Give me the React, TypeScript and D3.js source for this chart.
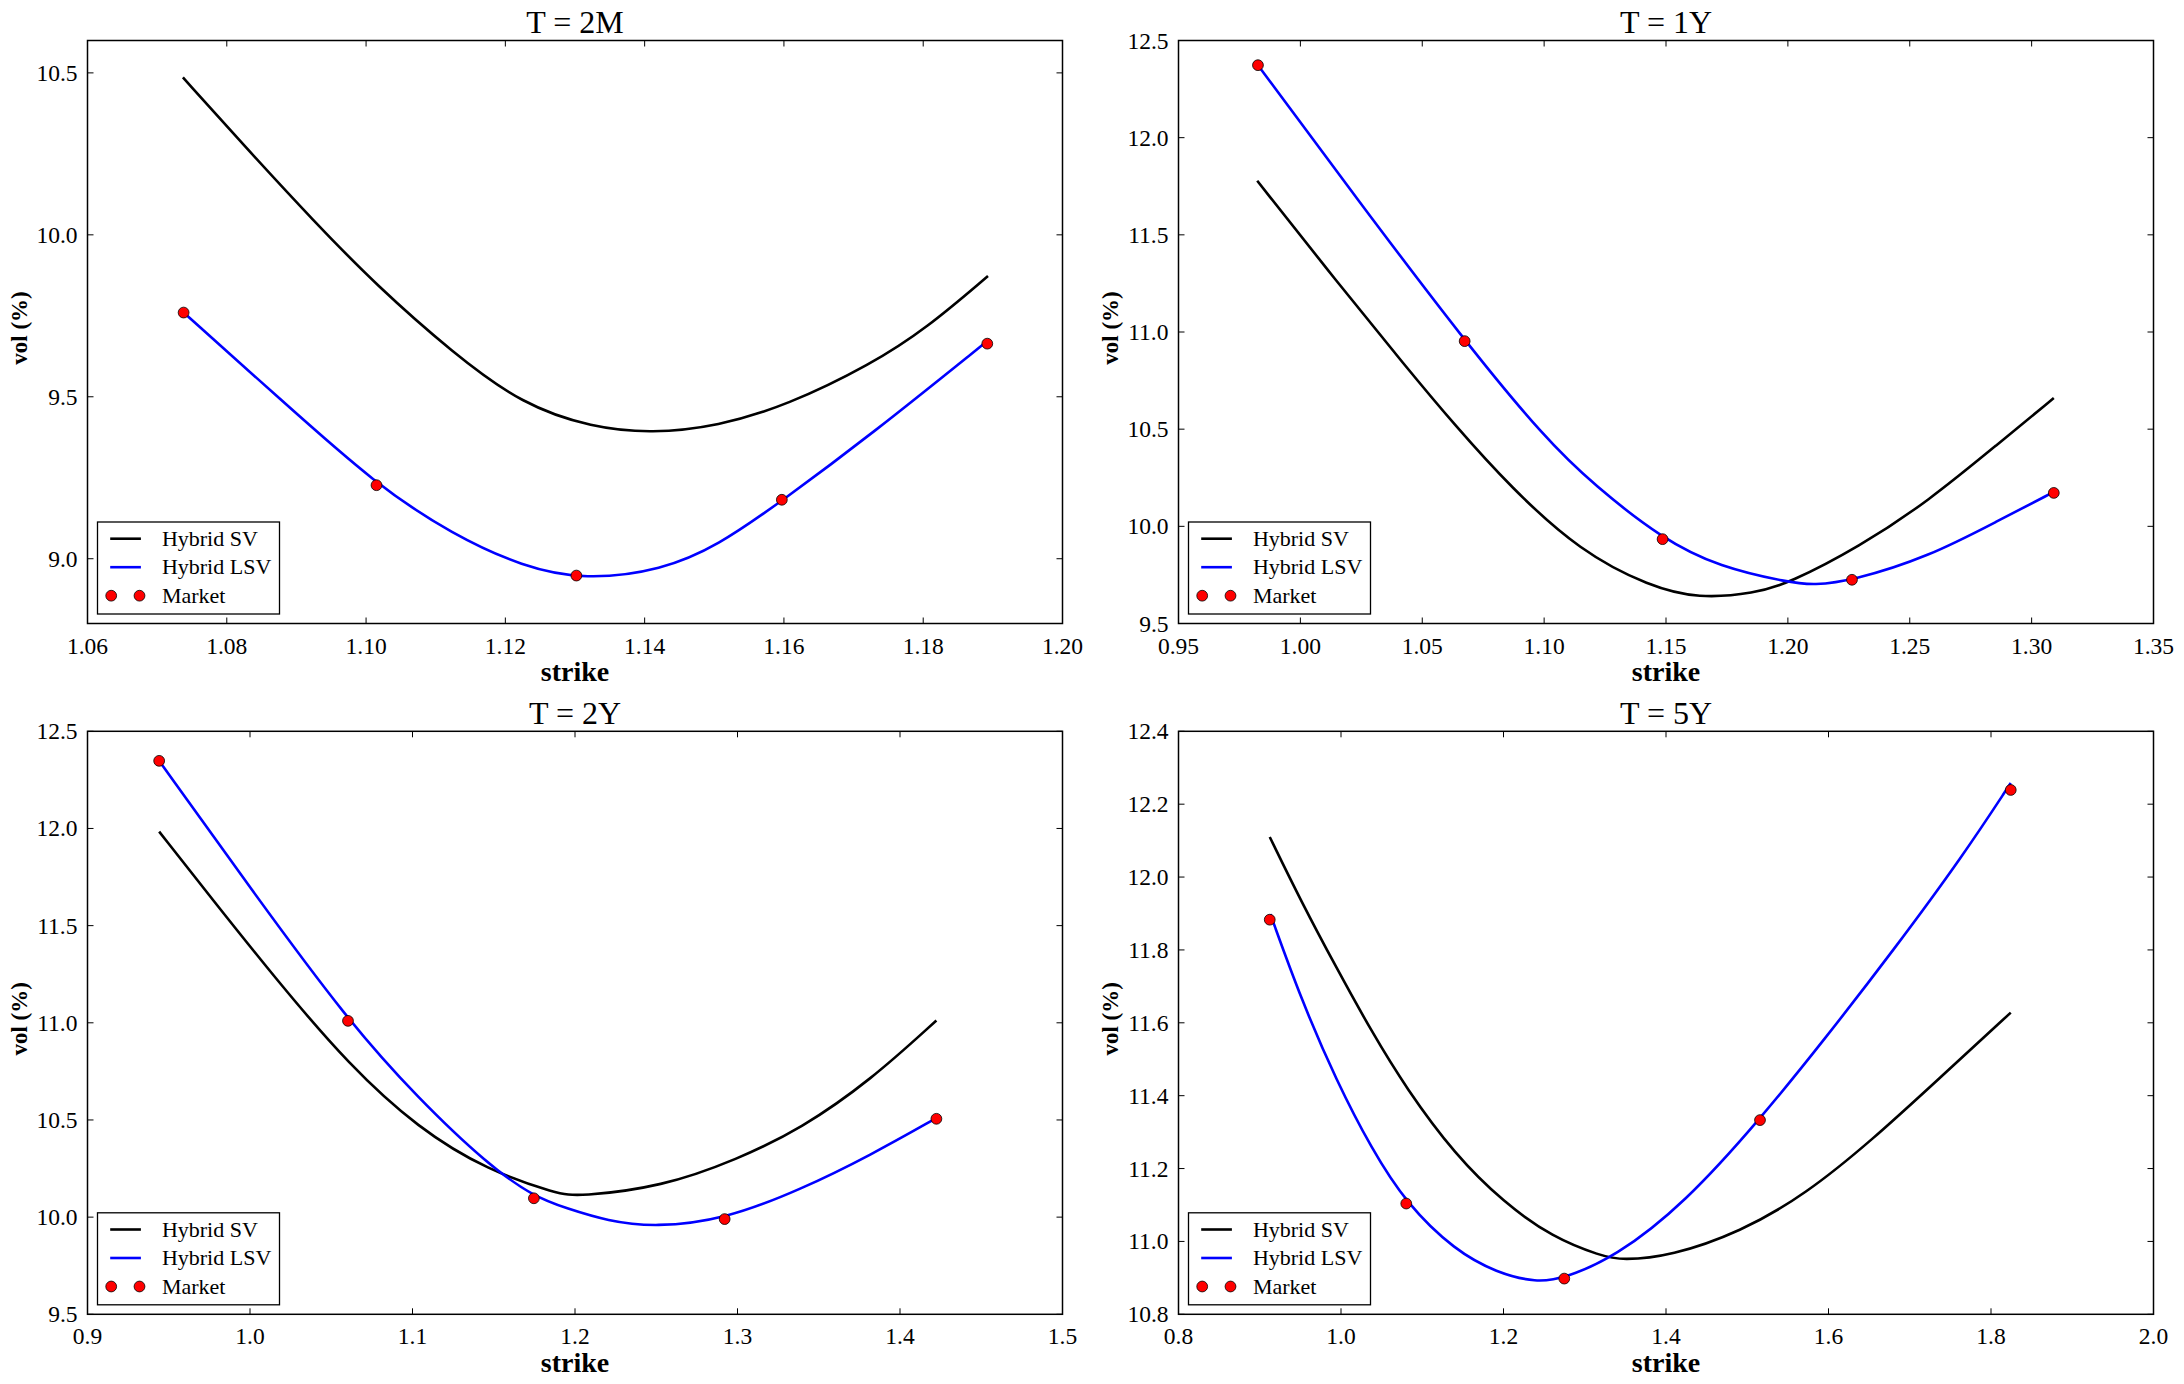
import * as d3 from "d3";

type Pt = [number, number];

const WIDTH = 2184;
const HEIGHT = 1384;

const titles = ["T = 2M", "T = 1Y", "T = 2Y", "T = 5Y"];
const seriesNames = ["Hybrid SV", "Hybrid LSV", "Market"];

// market quotes: [strike, vol %]
const market2M: Pt[] = [[1.0738, 9.76], [1.1015, 9.227], [1.1302, 8.948], [1.1597, 9.182], [1.1892, 9.664]];
const market1Y: Pt[] = [[0.9826, 12.373], [1.0674, 10.953], [1.1486, 9.934], [1.2263, 9.725], [1.3091, 10.172]];
const market2Y: Pt[] = [[0.9441, 12.348], [1.0603, 11.01], [1.1747, 10.097], [1.2921, 9.99], [1.4224, 10.506]];
const market5Y: Pt[] = [[0.9123, 11.883], [1.0803, 11.104], [1.2748, 10.898], [1.5157, 11.333], [1.8243, 12.239]];

// hybrid SV model smile
const sv2M: Pt[] = [
  [1.0737, 10.486], [1.0825, 10.275], [1.0925, 10.042], [1.1015, 9.844], [1.1125, 9.635],
  [1.1225, 9.475], [1.1325, 9.405], [1.141, 9.387], [1.1505, 9.409], [1.1605, 9.474],
  [1.1725, 9.6], [1.1805, 9.712], [1.1893, 9.873],
];
const sv1Y: Pt[] = [
  [0.9823, 11.778], [1.0149, 11.26], [1.0434, 10.82], [1.0634, 10.52], [1.0863, 10.2],
  [1.1149, 9.87], [1.1434, 9.69], [1.1634, 9.628], [1.1863, 9.655], [1.2006, 9.708],
  [1.2291, 9.893], [1.2577, 10.13], [1.2863, 10.425], [1.3091, 10.66],
];
const sv2Y: Pt[] = [
  [0.9441, 11.984], [0.975, 11.655], [1.0179, 11.205], [1.0607, 10.785], [1.1036, 10.456],
  [1.1464, 10.24], [1.1893, 10.12], [1.2021, 10.106], [1.2536, 10.156], [1.2999, 10.297],
  [1.3393, 10.456], [1.3821, 10.706], [1.4224, 11.012],
];
const sv5Y: Pt[] = [
  [0.9123, 12.11], [0.9517, 11.93], [0.9946, 11.75], [1.0374, 11.577], [1.0803, 11.42],
  [1.1403, 11.238], [1.2003, 11.107], [1.2603, 11.011], [1.3203, 10.96], [1.346, 10.948],
  [1.406, 10.96], [1.4917, 11.026], [1.5717, 11.129], [1.6546, 11.28], [1.7346, 11.444],
  [1.8243, 11.628],
];

// hybrid LSV model smile
const lsv2M: Pt[] = [
  [1.0738, 9.76], [1.0875, 9.496], [1.1015, 9.227], [1.1125, 9.074], [1.1225, 8.975],
  [1.1315, 8.934], [1.1425, 8.965], [1.1505, 9.04], [1.1597, 9.178], [1.1725, 9.383],
  [1.1892, 9.672],
];
const lsv1Y: Pt[] = [
  [0.9826, 12.373], [1.0234, 11.682], [1.0674, 10.953], [1.1006, 10.449], [1.1206, 10.211],
  [1.1486, 9.934], [1.172, 9.79], [1.2006, 9.711], [1.2106, 9.697], [1.2263, 9.72],
  [1.2577, 9.843], [1.2863, 10.029], [1.3091, 10.177],
];
const lsv2Y: Pt[] = [
  [0.9441, 12.348], [1.0007, 11.687], [1.0603, 11.01], [1.1036, 10.61], [1.1464, 10.27],
  [1.1747, 10.105], [1.195, 10.045], [1.22, 9.98], [1.2493, 9.948], [1.2921, 9.988],
  [1.3393, 10.143], [1.3821, 10.32], [1.4224, 10.51],
];
const lsv5Y: Pt[] = [
  [0.9131, 11.898], [0.9517, 11.66], [0.9946, 11.44], [1.0374, 11.255], [1.0803, 11.104],
  [1.1403, 10.975], [1.1917, 10.914], [1.2406, 10.887], [1.2748, 10.899], [1.3374, 10.957],
  [1.4231, 11.105], [1.5157, 11.335], [1.5946, 11.553], [1.6803, 11.8], [1.766, 12.06],
  [1.8243, 12.258],
];

// axis limits and tick labels
const xDomains: Pt[] = [[1.06, 1.2], [0.95, 1.35], [0.9, 1.5], [0.8, 2.0]];
const yDomains: Pt[] = [[8.8, 10.6], [9.5, 12.5], [9.5, 12.5], [10.8, 12.4]];
const xTicks2M = [1.06, 1.08, 1.1, 1.12, 1.14, 1.16, 1.18, 1.2];
const xTicks1Y = [0.95, 1.0, 1.05, 1.1, 1.15, 1.2, 1.25, 1.3, 1.35];
const xTicks2Y = [0.9, 1.0, 1.1, 1.2, 1.3, 1.4, 1.5];
const xTicks5Y = [0.8, 1.0, 1.2, 1.4, 1.6, 1.8, 2.0];
const yTicks2M = [9.0, 9.5, 10.0, 10.5];
const yTicks1Y = [9.5, 10.0, 10.5, 11.0, 11.5, 12.0, 12.5];
const yTicks2Y = [9.5, 10.0, 10.5, 11.0, 11.5, 12.0, 12.5];
const yTicks5Y = [10.8, 11.0, 11.2, 11.4, 11.6, 11.8, 12.0, 12.2, 12.4];
const xFormats = [".2f", ".2f", ".1f", ".1f"];

const panels = [
  { market: market2M, sv: sv2M, lsv: lsv2M, xTicks: xTicks2M, yTicks: yTicks2M },
  { market: market1Y, sv: sv1Y, lsv: lsv1Y, xTicks: xTicks1Y, yTicks: yTicks1Y },
  { market: market2Y, sv: sv2Y, lsv: lsv2Y, xTicks: xTicks2Y, yTicks: yTicks2Y },
  { market: market5Y, sv: sv5Y, lsv: lsv5Y, xTicks: xTicks5Y, yTicks: yTicks5Y },
];

const colLeft = [87.5, 1178.5];
const rowTop = [40.5, 731.3];
const plotW = 975;
const plotH = 583;
const FONT = "'Liberation Serif', 'DejaVu Serif', serif";
const TICK = 6;
const LW = 2.6;

function Panel({ i, left, top }: { i: number; left: number; top: number }) {
  const p = panels[i];
  const x = d3.scaleLinear().domain(xDomains[i]).range([left, left + plotW]);
  const y = d3.scaleLinear().domain(yDomains[i]).range([top + plotH, top]);
  // smooth model curves through the sampled smile
  const line = d3
    .line<Pt>()
    .x((d) => x(d[0]))
    .y((d) => y(d[1]))
    .curve(d3.curveBasis);
  const fx = d3.format(xFormats[i]);
  const fy = d3.format(".1f");
  const bottom = top + plotH;
  const right = left + plotW;

  // legend box
  const lx = left + 10;
  const ly = bottom - 101.5;
  const rows = [16.7, 45.2, 73.7];

  return (
    <g>
      <rect x={left} y={top} width={plotW} height={plotH} fill="white" />
      <path d={line(p.sv) || ""} fill="none" stroke="#000" strokeWidth={LW} strokeLinejoin="round" />
      <path d={line(p.lsv) || ""} fill="none" stroke="#0000ff" strokeWidth={LW} strokeLinejoin="round" />
      {p.market.map((d, k) => (
        <circle key={k} cx={x(d[0])} cy={y(d[1])} r={5.4} fill="#ff0000" stroke="#000" strokeWidth={0.8} />
      ))}

      {p.xTicks.map((t) => (
        <g key={"x" + t}>
          <line x1={x(t)} x2={x(t)} y1={bottom} y2={bottom - TICK} stroke="#000" strokeWidth={1} />
          <line x1={x(t)} x2={x(t)} y1={top} y2={top + TICK} stroke="#000" strokeWidth={1} />
          <text x={x(t)} y={bottom + 30} textAnchor="middle" fontSize={23.5} fontFamily={FONT}>
            {fx(t)}
          </text>
        </g>
      ))}
      {p.yTicks.map((t) => (
        <g key={"y" + t}>
          <line x1={left} x2={left + TICK} y1={y(t)} y2={y(t)} stroke="#000" strokeWidth={1} />
          <line x1={right} x2={right - TICK} y1={y(t)} y2={y(t)} stroke="#000" strokeWidth={1} />
          <text x={left - 10} y={y(t) + 8} textAnchor="end" fontSize={23.5} fontFamily={FONT}>
            {fy(t)}
          </text>
        </g>
      ))}

      <rect x={left} y={top} width={plotW} height={plotH} fill="none" stroke="#000" strokeWidth={1.5} />

      <g>
        <rect x={lx} y={ly} width={182} height={92} fill="white" stroke="#000" strokeWidth={1.3} />
        <line x1={lx + 12.7} x2={lx + 43.4} y1={ly + rows[0]} y2={ly + rows[0]} stroke="#000" strokeWidth={LW} />
        <line x1={lx + 12.7} x2={lx + 43.4} y1={ly + rows[1]} y2={ly + rows[1]} stroke="#0000ff" strokeWidth={LW} />
        <circle cx={lx + 13.7} cy={ly + rows[2]} r={5.4} fill="#ff0000" stroke="#000" strokeWidth={0.8} />
        <circle cx={lx + 42} cy={ly + rows[2]} r={5.4} fill="#ff0000" stroke="#000" strokeWidth={0.8} />
        {seriesNames.map((s, k) => (
          <text key={s} x={lx + 64.4} y={ly + rows[k] + 7} fontSize={22} fontFamily={FONT}>
            {s}
          </text>
        ))}
      </g>

      <text x={left + plotW / 2} y={top - 7.5} textAnchor="middle" fontSize={32} fontFamily={FONT}>
        {titles[i]}
      </text>
      <text x={left + plotW / 2} y={bottom + 57.5} textAnchor="middle" fontSize={28} fontWeight="bold" fontFamily={FONT}>
        strike
      </text>
      <text
        transform={`translate(${left - 61},${top + plotH / 2 - 4}) rotate(-90)`}
        textAnchor="middle"
        fontSize={23}
        fontWeight="bold"
        fontFamily={FONT}
      >
        vol (%)
      </text>
    </g>
  );
}

export default function App() {
  return (
    <svg
      width={WIDTH}
      height={HEIGHT}
      style={{ position: "absolute", left: 0, top: 0, background: "white" }}
    >
      {panels.map((_, i) => (
        <Panel key={i} i={i} left={colLeft[i % 2]} top={rowTop[Math.floor(i / 2)]} />
      ))}
    </svg>
  );
}
